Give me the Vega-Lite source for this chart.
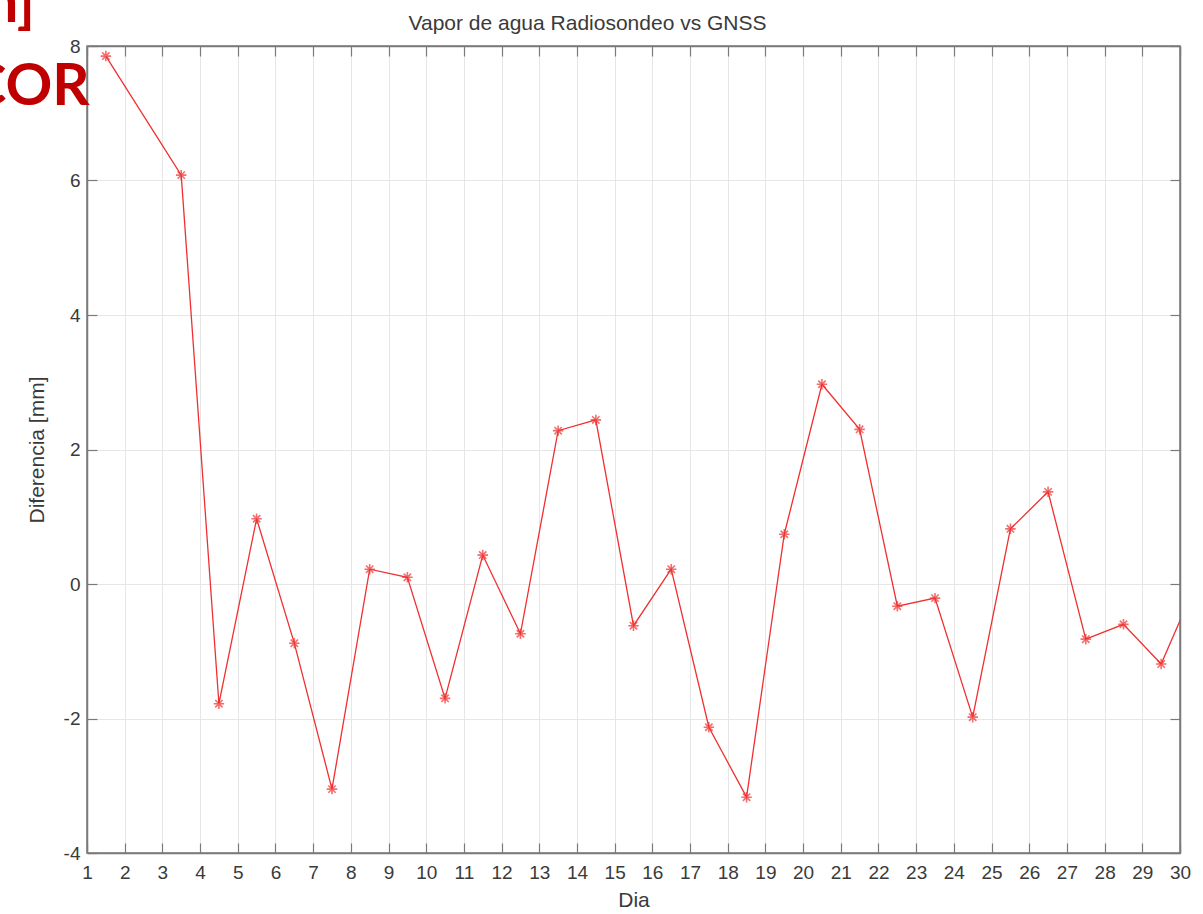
{
  "$schema": "https://vega.github.io/schema/vega-lite/v6.json",
  "width": 1093,
  "height": 807,
  "autosize": {"type": "none"},
  "padding": {"left": 87, "top": 46, "right": 23, "bottom": 61},
  "background": "white",
  "config": {
    "view": {"stroke": "#7a7a7a", "strokeWidth": 1.5},
    "axis": {
      "labelFont": "Liberation Sans",
      "labelFontSize": 19,
      "labelColor": "#3a3a3a",
      "titleFont": "Liberation Sans",
      "titleFontSize": 21,
      "titleFontWeight": "normal",
      "titleColor": "#3a3a3a",
      "domainColor": "#7a7a7a",
      "domainWidth": 1.5,
      "tickColor": "#7a7a7a",
      "tickWidth": 1.2,
      "tickSize": -10,
      "gridColor": "#e6e6e6",
      "gridWidth": 1
    }
  },
  "datasets": {
    "diff": [
      {"dia": 1.5, "diferencia": 7.85},
      {"dia": 3.5, "diferencia": 6.08},
      {"dia": 4.5, "diferencia": -1.78},
      {"dia": 5.5, "diferencia": 0.97},
      {"dia": 6.5, "diferencia": -0.88},
      {"dia": 7.5, "diferencia": -3.05},
      {"dia": 8.5, "diferencia": 0.22},
      {"dia": 9.5, "diferencia": 0.1},
      {"dia": 10.5, "diferencia": -1.7},
      {"dia": 11.5, "diferencia": 0.43},
      {"dia": 12.5, "diferencia": -0.74},
      {"dia": 13.5, "diferencia": 2.28},
      {"dia": 14.5, "diferencia": 2.44},
      {"dia": 15.5, "diferencia": -0.62},
      {"dia": 16.5, "diferencia": 0.22},
      {"dia": 17.5, "diferencia": -2.13},
      {"dia": 18.5, "diferencia": -3.17},
      {"dia": 19.5, "diferencia": 0.74},
      {"dia": 20.5, "diferencia": 2.97},
      {"dia": 21.5, "diferencia": 2.3},
      {"dia": 22.5, "diferencia": -0.33},
      {"dia": 23.5, "diferencia": -0.21},
      {"dia": 24.5, "diferencia": -1.98},
      {"dia": 25.5, "diferencia": 0.82},
      {"dia": 26.5, "diferencia": 1.37},
      {"dia": 27.5, "diferencia": -0.82},
      {"dia": 28.5, "diferencia": -0.6},
      {"dia": 29.5, "diferencia": -1.19},
      {"dia": 30.5, "diferencia": 0.1}
    ],
    "slide": [
      {"dia": -0.38, "diferencia": 8.36, "texto": "m]"},
      {"dia": 1.07, "diferencia": 7.12, "texto": "COR"}
    ]
  },
  "layer": [
    {
      "data": {"name": "diff"},
      "mark": {"type": "line", "color": "#f03030", "strokeWidth": 1.3, "clip": true},
      "encoding": {
        "x": {
          "field": "dia", "type": "quantitative",
          "scale": {"domain": [1, 30], "nice": false, "zero": false},
          "axis": {
            "title": "Dia", "orient": "bottom",
            "values": [1,2,3,4,5,6,7,8,9,10,11,12,13,14,15,16,17,18,19,20,21,22,23,24,25,26,27,28,29,30],
            "labelPadding": 20, "titlePadding": 7, "labelFlush": false
          }
        },
        "y": {
          "field": "diferencia", "type": "quantitative",
          "scale": {"domain": [-4, 8], "nice": false, "zero": false},
          "axis": {
            "title": "Diferencia [mm]", "orient": "left",
            "values": [-4, -2, 0, 2, 4, 6, 8],
            "labelExpr": "replace(datum.label, '\u2212', '-')",
            "labelPadding": 17, "titlePadding": 16
          }
        }
      }
    },
    {
      "data": {"name": "diff"},
      "mark": {
        "type": "point",
        "shape": "M-1,0L1,0M0,-1L0,1M-0.7,-0.7L0.7,0.7M-0.7,0.7L0.7,-0.7",
        "filled": false,
        "color": "#f03030",
        "strokeWidth": 1.6,
        "size": 110,
        "clip": true
      },
      "encoding": {
        "x": {
          "field": "dia", "type": "quantitative",
          "axis": {
            "orient": "top", "labels": false, "grid": false,
            "values": [1,2,3,4,5,6,7,8,9,10,11,12,13,14,15,16,17,18,19,20,21,22,23,24,25,26,27,28,29,30],
            "title": "Vapor de agua Radiosondeo vs GNSS",
            "titleFontSize": 21,
            "titleBaseline": "alphabetic",
            "titlePadding": 16,
            "titleX": 500
          }
        },
        "y": {
          "field": "diferencia", "type": "quantitative",
          "axis": {"orient": "right", "title": null, "labels": false, "grid": false,
                   "values": [-4, -2, 0, 2, 4, 6, 8]}
        }
      }
    },
    {
      "data": {"name": "slide"},
      "mark": {
        "type": "text",
        "align": "right",
        "baseline": "alphabetic",
        "font": "Lato",
        "fontWeight": "bold",
        "fontSize": 58,
        "color": "#c00000",
        "clip": false
      },
      "encoding": {
        "x": {"field": "dia", "type": "quantitative", "axis": null},
        "y": {"field": "diferencia", "type": "quantitative", "axis": null},
        "text": {"field": "texto"}
      }
    }
  ],
  "resolve": {"axis": {"x": "independent", "y": "independent"}}
}
